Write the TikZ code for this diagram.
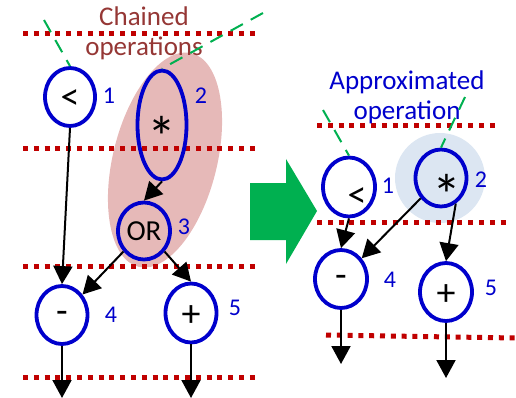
\documentclass[tikz,border=0pt]{standalone}
\usepackage{fontspec}
\setmainfont{Carlito}
\usetikzlibrary{arrows.meta,shapes.geometric}
\definecolor{opblue}{HTML}{0000CC}
\definecolor{dotred}{HTML}{C00000}
\definecolor{chainred}{HTML}{953735}
\definecolor{pinkfill}{HTML}{E6B9B8}
\definecolor{bluefill}{HTML}{DCE6F2}
\definecolor{arrowgreen}{HTML}{00B050}
\definecolor{dashgreen}{HTML}{00B050}
\tikzset{
  op/.style={draw=opblue, line width=3.8pt, ellipse, inner sep=0pt, minimum width=#1, font=\fontsize{29}{30}\selectfont},
  bigsym/.style={font=\fontsize{38}{40}\selectfont},
  starsym/.style={font=\fontsize{58}{60}\selectfont, inner sep=0pt},
  numlbl/.style={text=opblue, font=\fontsize{24}{26}\selectfont, inner sep=0pt},
  stagedots/.style={draw=dotred, line width=5pt, dash pattern=on 5pt off 5.8pt},
  guide/.style={draw=dashgreen, line width=2pt, dash pattern=on 14pt off 9pt},
  flow/.style={draw=black, line width=2pt, -{Triangle[length=18pt,width=19pt]}},
}
\begin{document}
\begin{tikzpicture}[x=1pt,y=-1pt]
\useasboundingbox (0,0) rectangle (516,398);
% shaded groups
\fill[pinkfill] (165,160) ellipse[x radius=52, y radius=110, rotate=-14];
\fill[bluefill] (440,178) circle (45);
% dotted stage lines
\draw[stagedots] (23,34) -- (255,34);
\draw[stagedots] (23,149) -- (255,149);
\draw[stagedots] (23,266) -- (255,266);
\draw[stagedots] (23,377) -- (255,377);
\draw[stagedots] (317,126) -- (499,126);
\draw[stagedots] (317,222) -- (508,222);
\draw[stagedots] (326,335) -- (516,338);
% titles
\node[text=chainred, font=\fontsize{27}{30}\selectfont, align=center] (chain) at (144,33) {Chained\\operations};
\node[text=opblue, font=\fontsize{27}{30}\selectfont, align=center] (approx) at (407,97) {Approximated\\operation};
% left nodes
\node[op=50pt, minimum height=58pt] (a1) at (70,97) {};
\node[bigsym] (a1t) at (70,100) {<};
\node[op=49pt, minimum height=109pt] (a2) at (162,125) {};
\node[starsym, anchor=base] (a2t) at (162,158) {*};
\node[op=52pt, minimum height=57pt] (a3) at (144,231) {OR};
\node[op=51pt, minimum height=58pt] (a4) at (62,315) {};
\node[bigsym] (a4t) at (62,317) {-};
\node[op=51pt, minimum height=59pt] (a5) at (191,313) {};
\node[bigsym] (a5t) at (191,316) {+};
\node[numlbl] (n1) at (109,96) {1};
\node[numlbl] (n2) at (201,96) {2};
\node[numlbl] (n3) at (184,227) {3};
\node[numlbl] (n4) at (111,315) {4};
\node[numlbl] (n5) at (235,308) {5};
% right nodes
\node[op=52pt, minimum height=59pt] (b1) at (349,187) {};
\node[bigsym] (b1t) at (357,198) {<};
\node[op=51pt, minimum height=57pt] (b2) at (441,178) {};
\node[starsym, anchor=base] (b2t) at (447,215) {*};
\node[op=52pt, minimum height=58pt] (b4) at (341,279) {};
\node[bigsym] (b4t) at (341,281) {-};
\node[op=52pt, minimum height=58pt] (b5) at (446,292) {};
\node[bigsym] (b5t) at (446,295) {+};
\node[numlbl] (m1) at (388,186) {1};
\node[numlbl] (m2) at (481,180) {2};
\node[numlbl] (m4) at (390,280) {4};
\node[numlbl] (m5) at (491,288) {5};
% guide dashes
\coordinate (g1) at (44,20);
\coordinate (g2) at (263,13);
\coordinate (g3) at (323,110);
\coordinate (g4) at (465,97);
\draw[guide] (g1) -- (a1.north);
\draw[guide] (g2) -- (a2.north);
\draw[guide] (g3) -- (b1.north);
\draw[guide] (g4) -- (b2.north);
% green block arrow
\fill[arrowgreen] (250,183) -- (286,183) -- (286,159) -- (317,211) -- (286,264) -- (286,240) -- (250,240) -- cycle;
% left connectors
\coordinate (oa4) at (62,398);
\coordinate (oa5) at (191,398);
\draw[flow] (a1.south) -- (a4.north);
\draw[flow] (a2.south) -- (a3.north);
\draw[flow] (a3.225) -- (a4.45);
\draw[flow] (a3.315) -- (a5.north);
\draw[flow] (a4.south) -- (oa4);
\draw[flow] (a5.south) -- (oa5);
% right connectors
\coordinate (ob4) at (341,364);
\coordinate (ob5) at (446,378);
\draw[flow] (b1.south) -- (b4.north);
\draw[flow] (b2.225) -- (b4.45);
\draw[flow] (b2.300) -- (b5.north);
\draw[flow] (b4.south) -- (ob4);
\draw[flow] (b5.south) -- (ob5);
\end{tikzpicture}
\end{document}
